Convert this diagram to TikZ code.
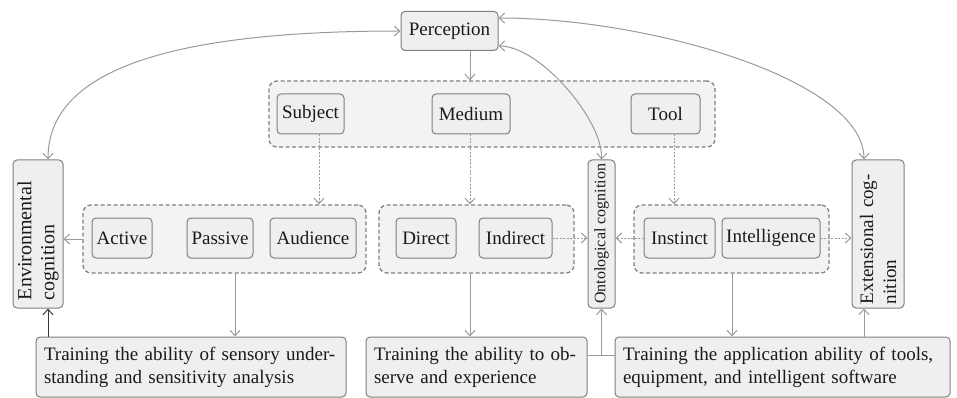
\documentclass[tikz,border=0pt]{standalone}
\usepackage{fontspec}
\setmainfont{Liberation Serif}
\usetikzlibrary{arrows.meta}
\definecolor{bordc}{HTML}{808080}
\definecolor{fillc}{HTML}{EFEFEF}
\definecolor{grpfill}{HTML}{F3F3F3}
\definecolor{arrc}{HTML}{9A9A9A}
\definecolor{darkarr}{HTML}{3A3A3A}
\definecolor{txtc}{HTML}{1A1A1A}
\newcommand\mainfs{\fontsize{19}{23}\selectfont}
\newcommand\smallfs{\fontsize{16}{19}\selectfont}
\newcommand\envfs{\fontsize{20}{23}\selectfont}
\begin{document}
\begin{tikzpicture}[x=1pt,y=1pt,
 box/.style={draw=bordc, fill=fillc, rounded corners=4pt, line width=1pt, inner sep=2pt, text=txtc, font=\mainfs, minimum height=40pt},
 grp/.style={draw=bordc, fill=grpfill, dash pattern=on 4pt off 2.5pt, rounded corners=8pt, line width=1.3pt, minimum height=68pt},
 vbox/.style={box, rotate=90, minimum width=148pt},
 tbox/.style={box, align=left, minimum height=60pt, inner xsep=8pt},
 arr/.style={draw=arrc, line width=1pt, -{Straight Barb[length=5.5pt,width=10pt]}},
 darr/.style={arr, dash pattern=on 2pt off 1.5pt},
 arrtwo/.style={draw=arrc, line width=1pt, {Straight Barb[length=5.5pt,width=10pt]}-{Straight Barb[length=5.5pt,width=10pt]}},
 plain/.style={draw=arrc, line width=1pt}
]
\useasboundingbox (0,0) rectangle (957,-398);
\coordinate (e48) at (48,0);
\coordinate (e864) at (864,0);
\coordinate (y355) at (0,-355);

\node[box, minimum width=97pt, minimum height=39pt] (perc) at (449.5,-31) {Perception};
\node[grp, minimum width=446pt, minimum height=66pt] (g0) at (492,-114) {};
\node[box, minimum width=67pt] (subj) at (310.5,-114) {Subject};
\node[box, minimum width=78pt] (med) at (471,-114) {Medium};
\node[box, minimum width=69pt] (tool) at (665.5,-114) {Tool};

\node[grp, minimum width=283pt] (g1) at (224.5,-239) {};
\node[box, minimum width=60pt] (act) at (122,-238) {Active};
\node[box, minimum width=66pt] (pas) at (220,-238) {Passive};
\node[box, minimum width=86pt] (aud) at (313,-238) {Audience};
\node[grp, minimum width=195pt] (g2) at (476.5,-239) {};
\node[box, minimum width=60pt] (dir) at (426,-238) {Direct};
\node[box, minimum width=73pt] (ind) at (515.5,-238) {Indirect};
\node[grp, minimum width=195pt] (g3) at (731.5,-239) {};
\node[box, minimum width=71pt] (ins) at (679.5,-238) {Instinct};
\node[box, minimum width=98pt] (int) at (771,-238) {Intelligence};

\node[vbox, minimum height=50pt, font=\envfs, align=left, text width=132pt, inner xsep=8pt] (env) at (38,-234) {Environmental\\cognition};
\node[vbox, minimum height=27pt, font=\smallfs, inner sep=1pt] (onto) at (601.5,-234) {Ontological cognition};
\node[vbox, minimum height=52pt, align=left, text width=140pt, inner xsep=4pt] (ext) at (878,-234) {Extensional cog-\\nition};

\node[tbox, minimum width=310pt, text width=294pt] (b1) at (191,-367) {Training the ability of sensory under-\\standing and sensitivity analysis};
\node[tbox, minimum width=221pt, text width=205pt] (b2) at (476.5,-367) {Training the ability to ob-\\serve and experience};
\node[tbox, minimum width=335pt, text width=319pt] (b3) at (782.5,-367) {Training the application ability of tools,\\equipment, and intelligent software};

% connectors
\draw[arr] ([xshift=20.5pt]perc.south) -- ([xshift=20.5pt]perc.south |- g0.north);
\draw[darr] ([xshift=8.5pt]subj.south) -- ([xshift=8.5pt]subj.south |- g1.north);
\draw[darr] ([xshift=-1pt]med.south) -- ([xshift=-1pt]med.south |- g2.north);
\draw[darr] ([xshift=8.5pt]tool.south) -- ([xshift=8.5pt]tool.south |- g3.north);

\draw[arr] (g1.west) -- (g1.west -| env.south);
\draw[darr] (ind.east) -- (ind.east -| onto.north);
\draw[darr] (ins.west) -- (ins.west -| onto.south);
\draw[darr] (int.east) -- (int.east -| ext.north);

\draw[arr] ([xshift=10.5pt]g1.south) -- ([xshift=10.5pt]g1.south |- b1.north);
\draw[arr] ([xshift=-6.5pt]g2.south) -- ([xshift=-6.5pt]g2.south |- b2.north);
\draw[arr] ([xshift=0.5pt]g3.south) -- ([xshift=0.5pt]g3.south |- b3.north);

\draw[arr, draw=darkarr] (b1.north -| e48) -- (env.west -| e48);
\draw[plain] (b2.east |- y355) -- (b3.west |- y355);
\draw[arr] (onto.west |- y355) -- (onto.west);
\draw[arr] (b3.north -| e864) -- (ext.west -| e864);

\draw[arrtwo] (perc.west) .. controls (170,-31) and (48,-70) .. (env.east -| e48);
\draw[arrtwo] ([yshift=-15pt]perc.east) .. controls (540,-46) and (603,-120) .. (onto.east);
\draw[arrtwo] ([yshift=13pt]perc.east) .. controls (650,-18) and (864,-80) .. (ext.east -| e864);
\end{tikzpicture}
\end{document}
